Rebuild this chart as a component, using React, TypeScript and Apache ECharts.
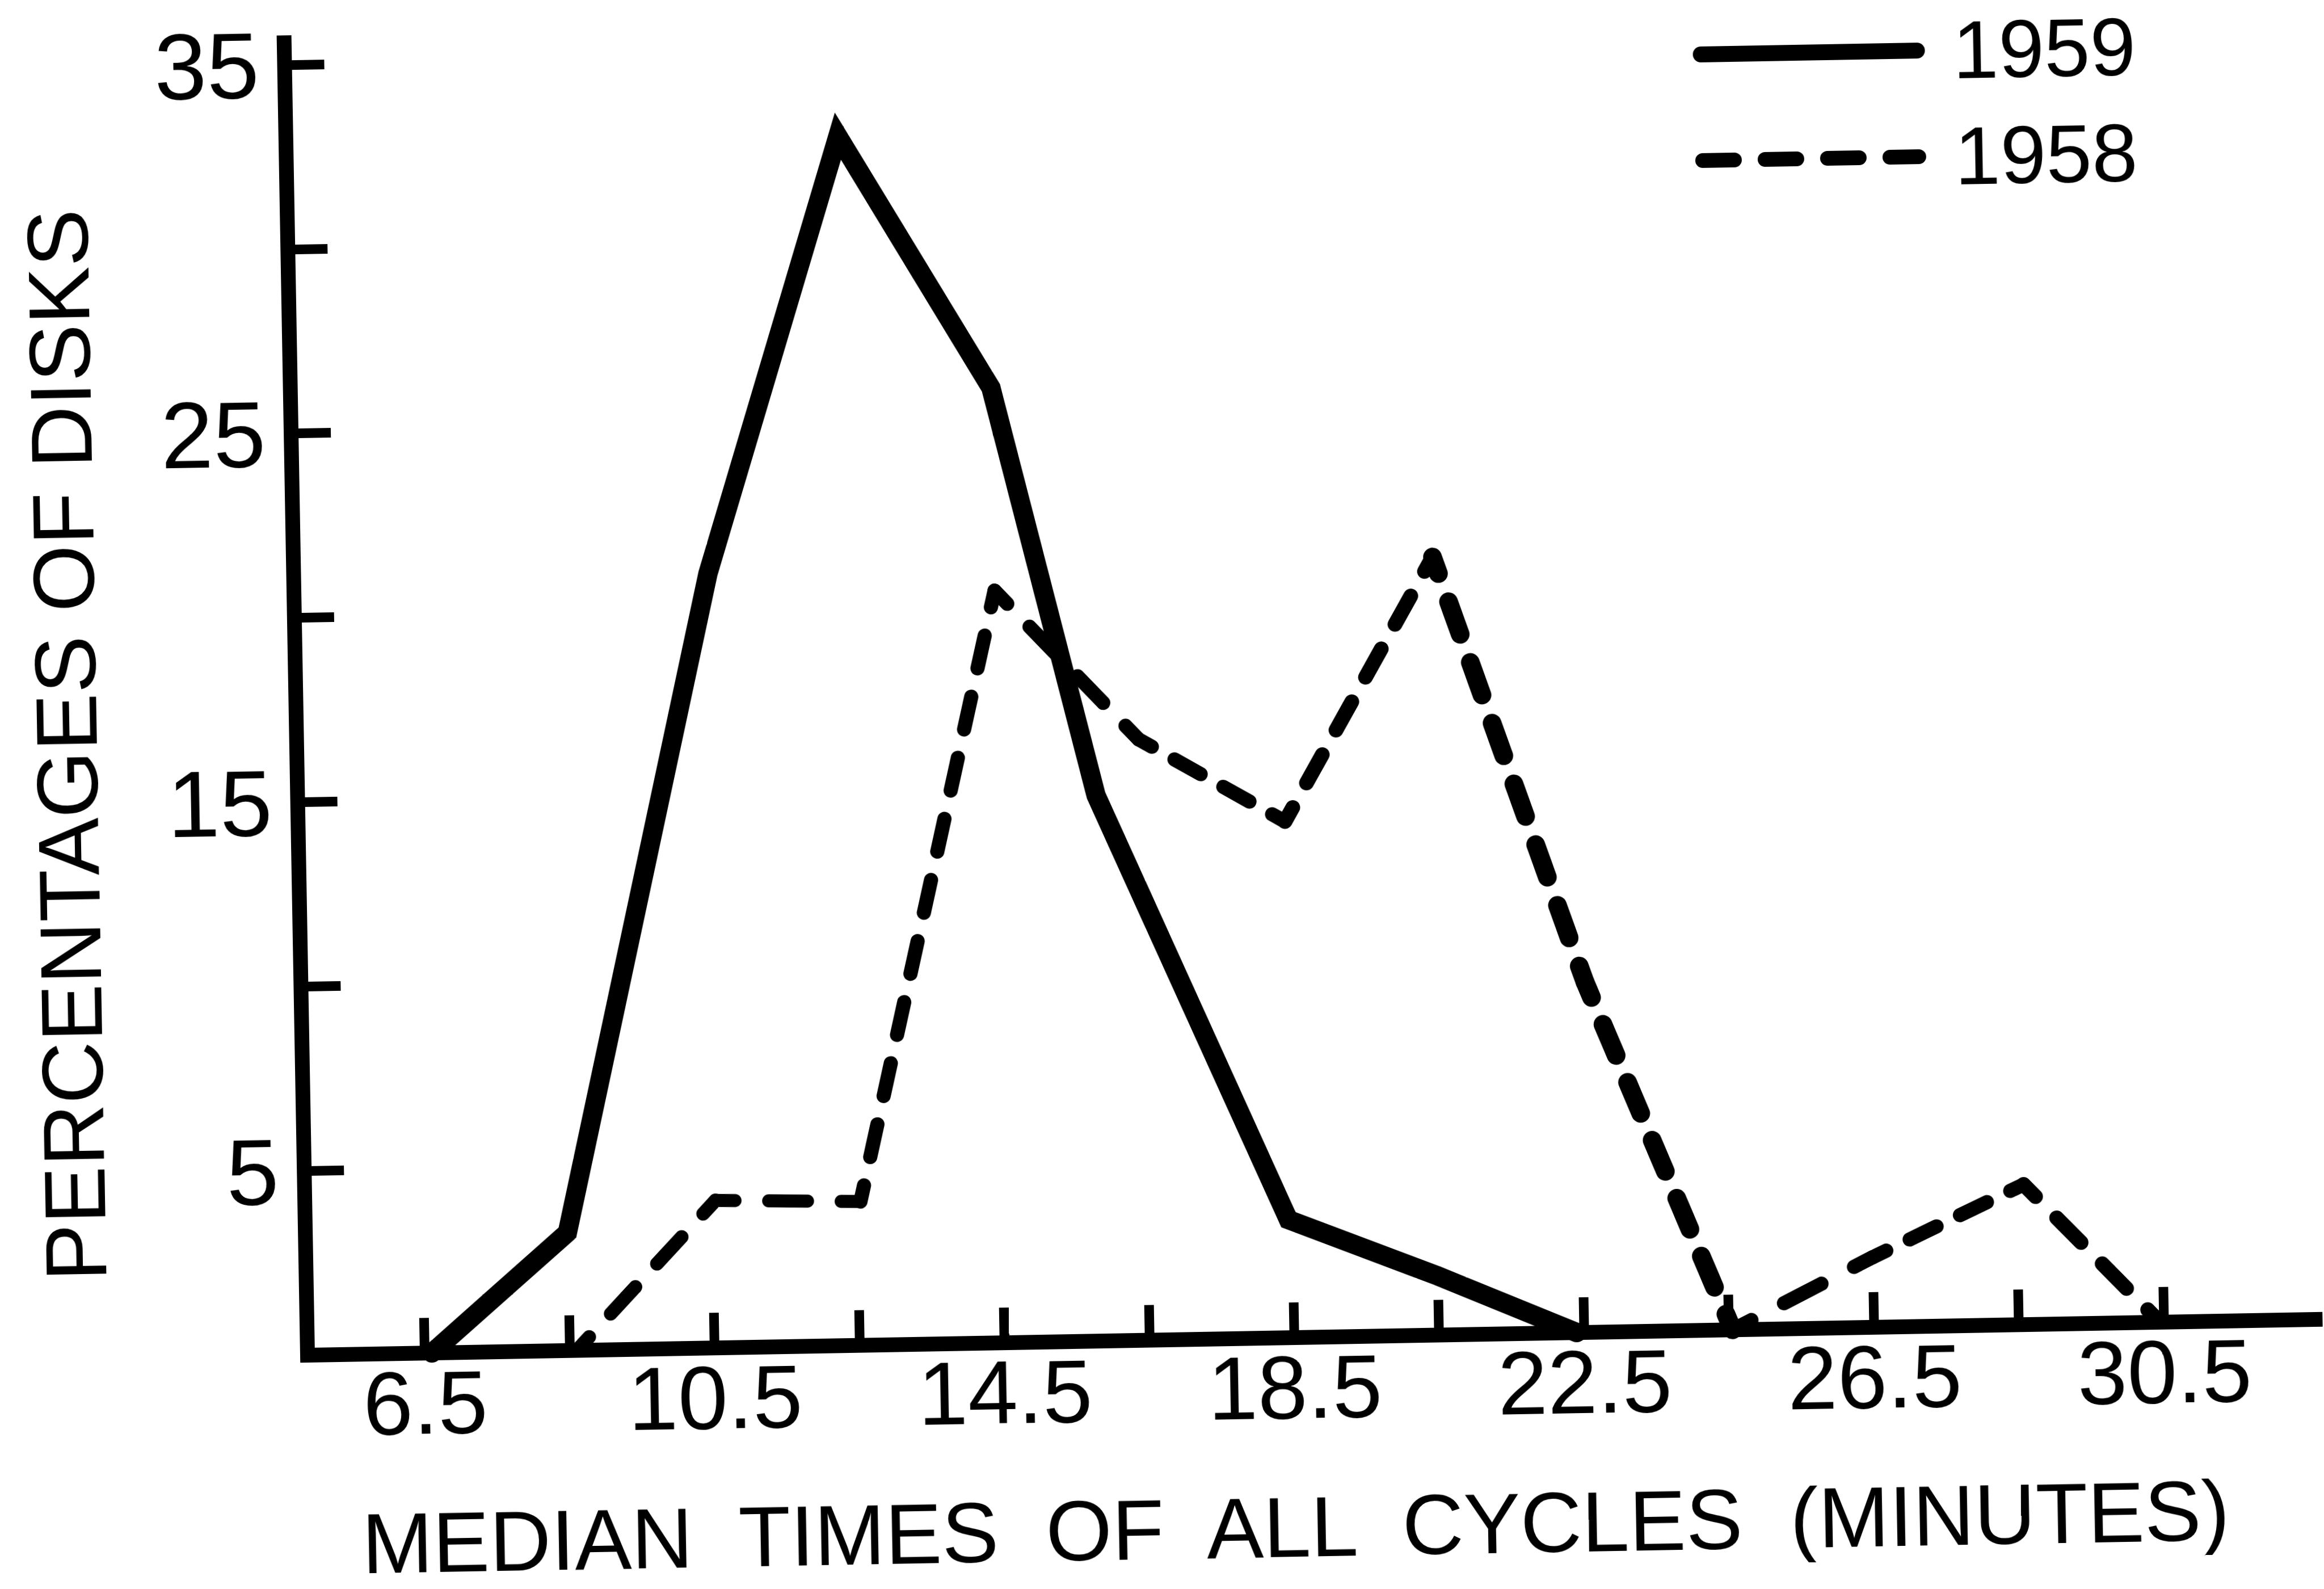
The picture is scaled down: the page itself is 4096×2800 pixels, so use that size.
import React, { useEffect, useRef } from 'react';
import * as echarts from 'echarts';

// ---- data ----
const seriesNames = ['1959', '1958'];
const minutes1959 = [6.6, 8.5, 10.6, 12.5, 14.55, 15.9, 18.45, 20.5, 22.4];
const percent1959 = [0, 3.2, 21.0, 32.8, 25.9, 14.8, 3.2, 1.6, 0];
const minutes1958 = [8.6, 10.55, 12.55, 14.55, 16.5, 18.5, 20.6, 22.6, 24.55, 26.5, 28.6, 30.45];
const percent1958 = [0, 4.0, 3.9, 20.4, 16.3, 14.0, 21.1, 9.5, 0, 1.9, 3.8, 0];
const xTickValues = [6.5, 8.5, 10.5, 12.5, 14.5, 16.5, 18.5, 20.5, 22.5, 24.5, 26.5, 28.5, 30.5];
const xLabelValues = [6.5, 10.5, 14.5, 18.5, 22.5, 26.5, 30.5];
const yTickValues = [5, 10, 15, 20, 25, 30, 35];
const yLabelValues = [5, 15, 25, 35];
const xTitle = 'MEDIAN  TIMES  OF  ALL  CYCLES  (MINUTES)';
const yTitle = 'PERCENTAGES OF DISKS';

// pen weight of each drawn stretch of the 1958 curve (style only)
const penWidths1958 = [24, 23, 25, 25, 25, 26, 33, 33, 25, 25, 26];

const FONT = "'Liberation Sans', Arial, sans-serif";

function fontAvailable(name: string): boolean {
  try {
    const ctx = document.createElement('canvas').getContext('2d');
    if (!ctx) return false;
    ctx.font = '100px monospace';
    const a = ctx.measureText('PERCENTAGES OF DISKS').width;
    ctx.font = `100px '${name}', monospace`;
    const b = ctx.measureText('PERCENTAGES OF DISKS').width;
    return Math.abs(a - b) > 1;
  } catch (e) {
    return false;
  }
}

export default function App() {
  const ref = useRef<HTMLDivElement>(null);

  useEffect(() => {
    if (!ref.current) return;
    const chart = echarts.init(ref.current, null, { renderer: 'svg' });
    const narrow = fontAvailable('Liberation Sans Narrow');
    const yTitleFont = narrow ? "'Liberation Sans Narrow', sans-serif" : FONT;
    const yTitleSize = narrow ? 185 : 152;

    const pairs = (xs: number[], ys: number[]) => xs.map((x, i) => [x, ys[i]]);

    const legendX1 = 3025;
    const legendX2 = 3432;
    const legendTextX = 3482;
    const legendRows = [140, 327];

    const solidSeries = {
      name: seriesNames[0],
      type: 'line',
      data: pairs(minutes1959, percent1959),
      symbol: 'none',
      showSymbol: false,
      clip: false,
      silent: true,
      z: 3,
      itemStyle: { color: '#000' },
      lineStyle: { color: '#000', width: 34, type: 'solid', join: 'miter', cap: 'round' },
    };

    chart.setOption({
      animation: false,
      backgroundColor: 'transparent',
      color: ['#000'],
      grid: { left: 542, right: 15, top: 75, bottom: 412, containLabel: false },
      xAxis: {
        type: 'value',
        min: 4.884,
        max: 32.59,
        axisLine: { show: true, onZero: false, lineStyle: { color: '#000', width: 26, cap: 'square' } },
        axisTick: {
          show: true,
          inside: true,
          length: 62,
          customValues: xTickValues,
          lineStyle: { color: '#000', width: 17 },
        },
        axisLabel: {
          show: true,
          customValues: xLabelValues,
          margin: 8,
          color: '#000',
          fontSize: 158,
          fontFamily: FONT,
        },
        splitLine: { show: false },
      },
      yAxis: {
        type: 'value',
        min: 0,
        max: 35.6,
        axisLine: { show: true, onZero: false, lineStyle: { color: '#000', width: 26, cap: 'square' } },
        axisTick: {
          show: true,
          inside: true,
          length: 70,
          customValues: yTickValues,
          lineStyle: { color: '#000', width: 17 },
        },
        axisLabel: {
          show: true,
          customValues: yLabelValues,
          margin: 45,
          color: '#000',
          fontSize: 166,
          fontFamily: FONT,
        },
        splitLine: { show: false },
      },
      series: [solidSeries],
      graphic: [
        {
          type: 'line',
          silent: true,
          shape: { x1: legendX1 + 13, y1: legendRows[0], x2: legendX2 - 13, y2: legendRows[0] },
          style: { stroke: '#000', lineWidth: 28, lineCap: 'round' },
        },
        {
          type: 'text',
          x: legendTextX,
          y: legendRows[0],
          silent: true,
          style: {
            text: seriesNames[0],
            fontSize: 145,
            fontFamily: FONT,
            fill: '#000',
            textAlign: 'left',
            textVerticalAlign: 'middle',
          },
        },
        {
          type: 'line',
          silent: true,
          shape: { x1: legendX1 + 13, y1: legendRows[1], x2: legendX2 - 13, y2: legendRows[1] },
          style: { stroke: '#000', lineWidth: 26, lineCap: 'round', lineDash: [56, 54] },
        },
        {
          type: 'text',
          x: legendTextX,
          y: legendRows[1],
          silent: true,
          style: {
            text: seriesNames[1],
            fontSize: 145,
            fontFamily: FONT,
            fill: '#000',
            textAlign: 'left',
            textVerticalAlign: 'middle',
          },
        },
        {
          type: 'text',
          x: 2278,
          y: 2722,
          silent: true,
          style: {
            text: xTitle,
            fontSize: 150,
            fontFamily: FONT,
            fill: '#000',
            textAlign: 'center',
            textVerticalAlign: 'middle',
          },
        },
        {
          type: 'text',
          x: 137,
          y: 1306,
          rotation: Math.PI / 2,
          silent: true,
          style: {
            text: yTitle,
            fontSize: yTitleSize,
            fontFamily: yTitleFont,
            fill: '#000',
            textAlign: 'center',
            textVerticalAlign: 'middle',
          },
        },
      ],
    });

    // The 1958 dashed curve: one segment per pair of points so that, as in the
    // hand-drawn original, every corner is covered by a dash.
    const pts = pairs(minutes1958, percent1958);
    const period = 112;
    const dashFrac = 60 / 112;
    const dashedSeries: any[] = [];
    for (let i = 0; i < pts.length - 1; i++) {
      const a = chart.convertToPixel({ gridIndex: 0 }, pts[i]) as number[];
      const b = chart.convertToPixel({ gridIndex: 0 }, pts[i + 1]) as number[];
      const len = Math.hypot(b[0] - a[0], b[1] - a[1]);
      const n = Math.max(1, Math.round(len / period));
      const p = len / n;
      const d = p * dashFrac;
      const g = p - d;
      dashedSeries.push({
        name: seriesNames[1],
        type: 'line',
        data: [pts[i], pts[i + 1]],
        symbol: 'none',
        showSymbol: false,
        clip: false,
        silent: true,
        z: 2,
        itemStyle: { color: '#000' },
        lineStyle: {
          color: '#000',
          width: penWidths1958[i] || 25,
          type: [d, g],
          dashOffset: d / 2,
          cap: 'round',
          join: 'round',
        },
      });
    }
    chart.setOption({ series: [solidSeries, ...dashedSeries] });

    return () => chart.dispose();
  }, []);

  return (
    <div
      ref={ref}
      style={{
        position: 'fixed',
        left: 0,
        top: 0,
        width: 4096,
        height: 2800,
        transform: 'rotate(-1.02deg)',
        transformOrigin: '542px 2388px',
        background: 'transparent',
      }}
    />
  );
}
